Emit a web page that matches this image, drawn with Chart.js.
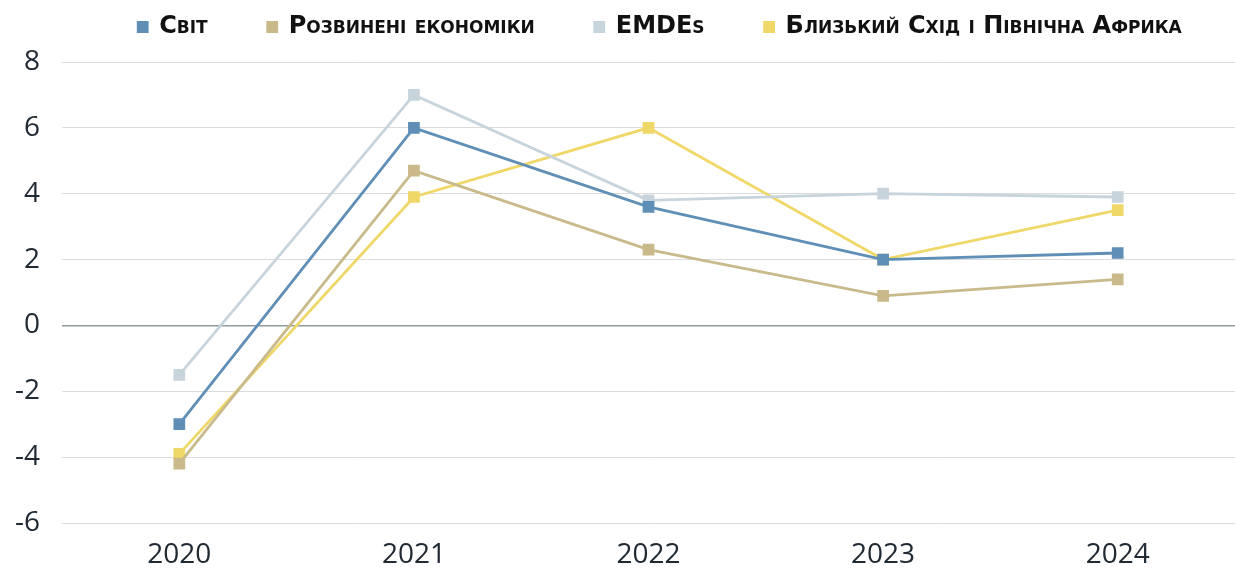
<!DOCTYPE html>
<html>
<head>
<meta charset="utf-8">
<script src="https://cdn.jsdelivr.net/npm/chart.js@4.4.1/dist/chart.umd.min.js"></script>
<style>
  html, body { margin: 0; padding: 0; background: #fff; overflow: hidden; }
  #wrap { width: 1235px; height: 570px; }
</style>
</head>
<body>
<div id="wrap"><canvas id="chart"></canvas></div>
<script>
// data
const years = ["2020", "2021", "2022", "2023", "2024"];
const world = [-3.0, 6.0, 3.6, 2.0, 2.2];
const advanced = [-4.2, 4.7, 2.3, 0.9, 1.4];
const emdes = [-1.5, 7.0, 3.8, 4.0, 3.9];
const mena = [-3.9, 3.9, 6.0, 2.0, 3.5];
const yTicks = [-6, -4, -2, 0, 2, 4, 6, 8];

function series(label, data, color) {
  return {
    label: label,
    data: data,
    borderColor: color,
    backgroundColor: color,
    borderWidth: 2.8,
    pointStyle: "rect",
    pointRadius: 6.3,
    pointHoverRadius: 6.3,
    tension: 0
  };
}

// legend: a bit more room below it, and nudged right like the original
const legendTweak = {
  id: "legendTweak",
  beforeInit(chart) {
    const fit = chart.legend.fit;
    chart.legend.fit = function () {
      fit.call(this);
      this.height += 15;
    };
  },
  afterLayout(chart) {
    chart.legend.left += 46;
    chart.legend.right += 46;
    chart.legend.top += 2;
  }
};

const tickFont = { family: "'Open Sans', 'Noto Sans', sans-serif", size: 28, weight: "500" };

new Chart(document.getElementById("chart"), {
  type: "line",
  data: {
    labels: years,
    datasets: [
      series("Світ", world, "#5f8fb6"),
      series("Розвинені економіки", advanced, "#c9b98b"),
      series("EMDEs", emdes, "#c8d4dc"),
      series("Близький Схід і Північна Африка", mena, "#efd768")
    ]
  },
  plugins: [legendTweak],
  options: {
    responsive: true,
    maintainAspectRatio: false,
    animation: false,
    layout: { autoPadding: false, padding: { top: -47, right: 0, left: -7, bottom: 0 } },
    plugins: {
      tooltip: { enabled: false },
      legend: {
        position: "top",
        labels: {
          usePointStyle: true,
          pointStyle: "rect",
          boxWidth: 9,
          boxHeight: 9,
          padding: 60,
          color: "#111",
          // small-caps slipped in through the weight slot of the font string
          font: { family: "'DejaVu Sans', 'Liberation Sans', sans-serif", size: 24, weight: "small-caps bold" }
        }
      }
    },
    scales: {
      x: {
        offset: true,
        grid: { display: false, drawTicks: false },
        border: { display: false },
        afterFit: function (scale) { scale.height = 47; },
        ticks: {
          color: "#212a33",
          padding: 15,
          font: tickFont
        }
      },
      y: {
        min: -6,
        max: 8,
        afterBuildTicks: function (axis) {
          axis.ticks = yTicks.map(function (v) { return { value: v }; });
        },
        border: { display: false },
        grid: {
          drawTicks: false,
          lineWidth: function (ctx) { return ctx.tick && ctx.tick.value === 0 ? 1.5 : 1; },
          color: function (ctx) { return ctx.tick && ctx.tick.value === 0 ? "#8e9c9c" : "#dcdcdc"; }
        },
        ticks: {
          color: "#212a33",
          padding: 22,
          font: tickFont
        }
      }
    }
  }
});
</script>
</body>
</html>
